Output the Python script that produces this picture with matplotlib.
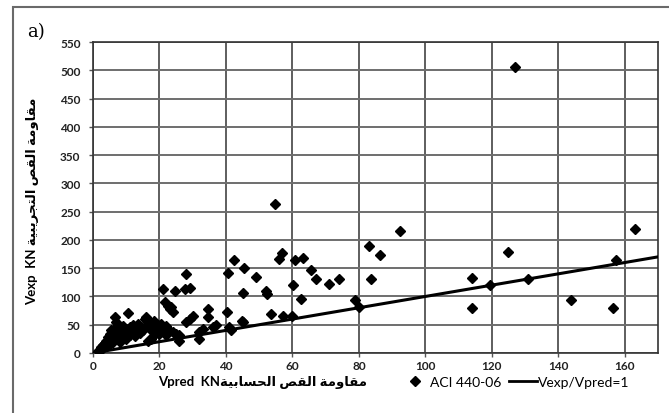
import numpy as np
import matplotlib
matplotlib.use("Agg")
import matplotlib.pyplot as plt
from matplotlib.lines import Line2D
from matplotlib.patches import Rectangle

# ── data (Vpred, Vexp in kN) ──────────────────────────────────
vpred = [1.5, 2, 2.5, 3, 3, 3.5, 4, 4, 4.5, 5, 5, 5.5, 5.5, 6, 6, 6.5, 6.6, 7, 7,
         7, 7.5, 8, 8, 8, 8.5, 9, 9, 9.5, 10, 10, 10.6, 11, 11, 12, 12, 12.5, 13,
         13.5, 14, 14.5, 15, 15.5, 16, 16, 16.5, 17, 17, 17.5, 18, 18, 18.5, 19,
         19, 20, 20, 20.5, 21, 21, 22, 22, 23, 24, 25, 26, 26, 21.1, 24.6, 27.6,
         29.1, 28.1, 21.6, 22.6, 23.1, 24.1, 23.6, 29.1, 30.1, 28.1, 33.1, 32, 32,
         34.6, 34.6, 37, 36, 41, 45, 40.4, 44.7, 41.6, 42.4, 40.6, 45.4, 49.1, 45,
         52.1, 52.4, 54.7, 55.9, 56.9, 60.7, 63.2, 60.1, 62.7, 53.5, 57.1, 60,
         65.5, 67.2, 71, 74, 78.7, 80, 83, 86.4, 83.7, 92.3, 114, 114, 119.6, 125,
         127, 130.8, 143.9, 156.5, 157.3, 163.2]
vexp = [3, 6, 10, 8, 14, 18, 12, 22, 28, 16, 33, 25, 40, 20, 30, 45, 63, 25, 35,
        55, 50, 20, 30, 42, 38, 28, 48, 35, 25, 42, 70, 32, 46, 38, 50, 30, 44,
        52, 36, 46, 40, 60, 48, 63, 22, 42, 54, 25, 30, 46, 56, 40, 50, 34, 45,
        52, 40, 43, 31, 48, 40, 37, 33, 31, 22, 113, 110, 113, 115, 140, 90, 84,
        78, 72, 81, 60, 66, 54, 43, 37, 25, 78, 63, 49, 46, 46, 55, 72, 56, 41,
        164, 142, 151, 135, 106, 110, 105, 264, 167, 176, 164, 168, 121, 96, 69,
        66, 66, 146, 130, 122, 130, 93, 81, 189, 173, 130, 216, 133, 80, 120,
        178, 505, 131, 94, 80, 164, 219]
line_x = [0, 170]

xticks = list(range(0, 161, 20))
yticks = list(range(0, 551, 50))


def arabic_visual(*chars):
    # presentation forms in logical order -> left-to-right visual order
    return "".join(reversed(chars))


# مقاومة القص الحسابية / مقاومة القص التجريبية (shaped by hand)
AR_X = arabic_visual("\ufee3", "\ufed8", "\ufe8e", "\ufeed", "\ufee3", "\ufe94", " ",
                     "\ufe8d", "\ufedf", "\ufed8", "\ufeba", " ",
                     "\ufe8d", "\ufedf", "\ufea4", "\ufeb4", "\ufe8e", "\ufe91", "\ufef4", "\ufe94")
AR_Y = arabic_visual("\ufee3", "\ufed8", "\ufe8e", "\ufeed", "\ufee3", "\ufe94", " ",
                     "\ufe8d", "\ufedf", "\ufed8", "\ufeba", " ",
                     "\ufe8d", "\ufedf", "\ufe98", "\ufea0", "\ufeae", "\ufef3", "\ufe92", "\ufef4", "\ufe94")

FONT = ["Lato", "DejaVu Sans"]
plt.rcParams["font.family"] = FONT

fig = plt.figure(figsize=(6.69, 4.14), dpi=100)
ax = fig.add_axes([93/669, 1-354/414, (658-93)/669, (354-43)/414])

ax.set_xlim(0, 170); ax.set_ylim(0, 550)
ax.set_xticks(xticks); ax.set_yticks(yticks)
ax.grid(axis="y", color="#6e6e6e", lw=1.4)
ax.grid(axis="x", color="#333333", lw=1.1)
ax.set_axisbelow(True)
for s in ax.spines.values():
    s.set_color("#333333"); s.set_linewidth(1.2)
ax.tick_params(length=3, width=1, color="#555555", labelsize=8.5)
ax.tick_params(axis="y", pad=6)
ax.tick_params(axis="x", pad=2)
for lbl in ax.get_xticklabels() + ax.get_yticklabels():
    lbl.set_fontweight("bold"); lbl.set_color("#222222")

ax.plot(vpred, vexp, ls="none", marker="D", ms=5.5, color="black", zorder=3)
ax.plot(line_x, line_x, color="black", lw=2.2, zorder=4)

# y axis title (rotated) and x axis title
fig.text(33/669, 1-201/414, "Vexp  KN " + AR_Y, rotation=90, ha="center", va="center",
         fontsize=9.5, fontweight="bold", family=FONT)
fig.text(158/669, 1-383/414, "Vpred  KN" + AR_X, ha="left", va="center",
         fontsize=9.5, fontweight="bold", family=FONT)
fig.text(27/669, 1-32/414, "a)", ha="left", va="center", fontsize=13, family="DejaVu Serif")

fig.legend(handles=[Line2D([], [], ls="none", marker="D", ms=5.5, color="black", label="ACI 440-06")],
           loc="center left", bbox_to_anchor=(409/669, 1-383/414), frameon=False, fontsize=10,
           handlelength=0.9, handletextpad=0.6, borderaxespad=0, borderpad=0)
fig.legend(handles=[Line2D([], [], color="black", lw=2, label="Vexp/Vpred=1")],
           loc="center left", bbox_to_anchor=(509/669, 1-383/414), frameon=False, fontsize=10,
           handlelength=2.0, handletextpad=0.1, borderaxespad=0, borderpad=0)

# outer chart frame
fig.patches.append(Rectangle((13/669, -0.05), 1.1, 1-8/414+0.05, transform=fig.transFigure,
                             fill=False, ec="#6a6a6a", lw=1.5))

fig.savefig("out.png", dpi=100)
